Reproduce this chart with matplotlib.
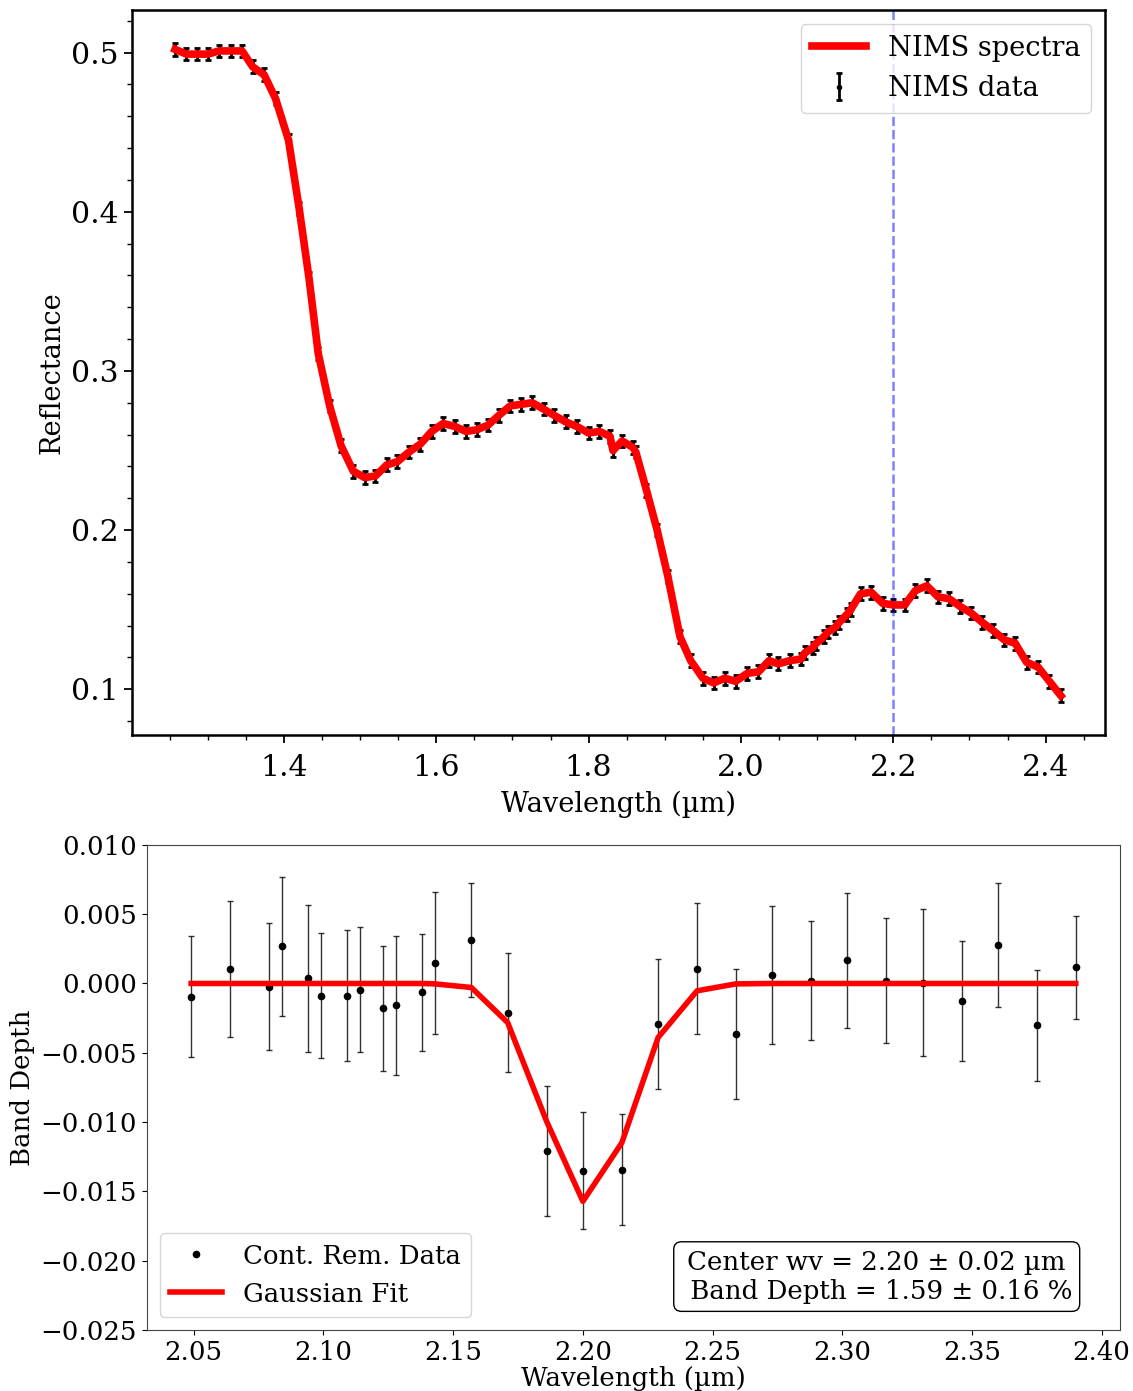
import numpy as np
import matplotlib
matplotlib.use('Agg')
import matplotlib.pyplot as plt

plt.rcParams['font.family'] = 'DejaVu Serif'
plt.rcParams['font.size'] = 18.7

# NIMS spectrum (top panel)
wl = [1.257, 1.272, 1.286, 1.300, 1.315, 1.330, 1.345, 1.359, 1.374, 1.389,
      1.406, 1.420, 1.433, 1.445, 1.460, 1.475, 1.491, 1.506, 1.520, 1.535,
      1.549, 1.564, 1.579, 1.594, 1.609, 1.625, 1.639, 1.653, 1.668, 1.682,
      1.697, 1.711, 1.726, 1.741, 1.755, 1.770, 1.785, 1.800, 1.814, 1.828,
      1.832, 1.844, 1.858, 1.862, 1.876, 1.890, 1.904, 1.920, 1.934, 1.950,
      1.964, 1.979, 1.993, 2.008, 2.023, 2.037, 2.049, 2.064, 2.079, 2.084,
      2.094, 2.099, 2.109, 2.114, 2.124, 2.129, 2.139, 2.144, 2.157, 2.171,
      2.186, 2.200, 2.215, 2.229, 2.244, 2.259, 2.273, 2.288, 2.302, 2.317,
      2.331, 2.346, 2.360, 2.375, 2.390, 2.405, 2.420]
refl = [0.502, 0.499, 0.499, 0.499, 0.501, 0.501, 0.501, 0.491, 0.486, 0.471,
        0.445, 0.402, 0.358, 0.311, 0.278, 0.253, 0.237, 0.233, 0.234, 0.241,
        0.243, 0.249, 0.254, 0.262, 0.267, 0.265, 0.262, 0.263, 0.266, 0.272,
        0.278, 0.279, 0.280, 0.276, 0.272, 0.268, 0.265, 0.261, 0.262, 0.259,
        0.250, 0.256, 0.252, 0.249, 0.225, 0.200, 0.171, 0.133, 0.118, 0.107,
        0.104, 0.107, 0.105, 0.110, 0.111, 0.118, 0.116, 0.118, 0.119, 0.123,
        0.126, 0.129, 0.133, 0.136, 0.139, 0.142, 0.147, 0.150, 0.160, 0.161,
        0.154, 0.153, 0.153, 0.162, 0.165, 0.158, 0.157, 0.152, 0.148, 0.142,
        0.137, 0.131, 0.129, 0.117, 0.114, 0.105, 0.096]
refl_err = 0.004
band_center = 2.2

# continuum removed band (bottom panel)
wl_cr = [2.049, 2.064, 2.079, 2.084, 2.094, 2.099, 2.109, 2.114, 2.123, 2.128,
         2.138, 2.143, 2.157, 2.171, 2.186, 2.200, 2.215, 2.229, 2.244, 2.259,
         2.273, 2.288, 2.302, 2.317, 2.331, 2.346, 2.360, 2.375, 2.390]
depth = [-0.00094, 0.00103, -0.00022, 0.00268, 0.00038, -0.00087, -0.00087, -0.00046, -0.00179, -0.00157,
         -0.00065, 0.00147, 0.00313, -0.00210, -0.01210, -0.01350, -0.01343, -0.00292, 0.00108, -0.00364,
         0.00062, 0.00019, 0.00166, 0.00019, 0.00007, -0.00126, 0.00277, -0.00302, 0.00116]
depth_err = [0.0044, 0.0049, 0.0046, 0.0050, 0.0053, 0.0045, 0.0047, 0.0045, 0.0045, 0.0050,
             0.0042, 0.0051, 0.0041, 0.0043, 0.0047, 0.0042, 0.0040, 0.0047, 0.0047, 0.0047,
             0.0050, 0.0043, 0.0049, 0.0045, 0.0053, 0.0043, 0.0045, 0.0040, 0.0037]
fit = [0.0, 0.0, 0.0, 0.0, 0.0, 0.0, 0.0, 0.0, 0.0, 0.0,
       0.0, -0.00003, -0.00029, -0.00282, -0.00994, -0.01572, -0.01150, -0.00390, -0.00053, -0.00003,
       0.0, 0.0, 0.0, 0.0, 0.0, 0.0, 0.0, 0.0, 0.0]

fig = plt.figure(figsize=(11.33, 13.91), dpi=100)

ax1 = fig.add_axes([0.1165, 0.4716, 0.8588, 0.5212])
ax1.plot(wl, refl, 'r-', lw=5.5, label='NIMS spectra', zorder=3)
ax1.errorbar(wl, refl, yerr=refl_err, fmt='k.', capsize=2.5, capthick=2, elinewidth=2,
             markersize=6, label='NIMS data', zorder=2)
ax1.axvline(band_center, color='b', ls='--', alpha=0.5, lw=1.8)
ax1.set_xlim(1.2005, 2.478)
ax1.minorticks_on()
ax1.tick_params(which='major', length=6, width=1.3, labelsize=21.5)
ax1.tick_params(which='minor', length=3.5, width=1.0)
ax1.tick_params(axis='x', which='major', pad=8)
for s in ax1.spines.values():
    s.set_linewidth(1.8)
ax1.set_xlabel('Wavelength (µm)', fontsize=19.6, labelpad=6)
ax1.set_ylabel('Reflectance', fontsize=19.6)
ax1.legend(loc='upper right', fontsize=19.6)

ax2 = fig.add_axes([0.1297, 0.0439, 0.8588, 0.3487])
ax2.errorbar(wl_cr, depth, yerr=depth_err, fmt='none', ecolor='k', elinewidth=1,
             capsize=2, alpha=0.8)
ax2.plot(wl_cr, depth, 'k.', markersize=9, label='Cont. Rem. Data')
ax2.plot(wl_cr, fit, 'r-', lw=4, label='Gaussian Fit')
ax2.set_ylim(-0.025, 0.010)
ax2.set_xlabel('Wavelength (µm)', labelpad=1)
ax2.set_ylabel('Band Depth')
for s in ax2.spines.values():
    s.set_color('#444444')
ax2.legend(loc='lower left')
ax2.text(0.75, 0.11, 'Center wv = 2.20 ± 0.02 µm\n Band Depth = 1.59 ± 0.16 %',
         transform=ax2.transAxes, ha='center', va='center',
         bbox=dict(boxstyle='round', facecolor='white', edgecolor='k'))

fig.savefig('out.png', dpi=100)
